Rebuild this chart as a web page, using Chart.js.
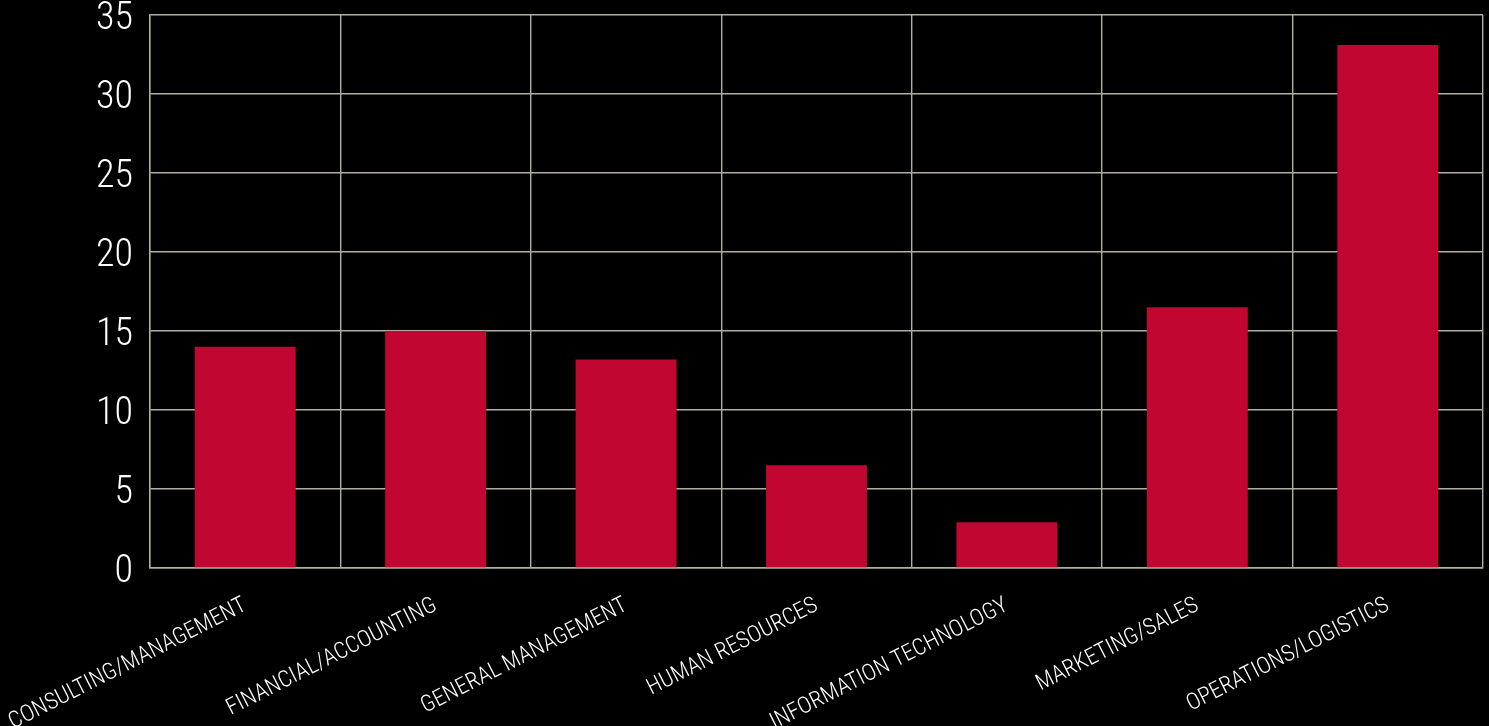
<!DOCTYPE html>
<html>
<head>
<meta charset="utf-8">
<script src="https://cdn.jsdelivr.net/npm/chart.js@4"></script>
<style>
  html, body { margin: 0; padding: 0; background: #000; }
  #wrap { width: 1489px; height: 726px; }
</style>
</head>
<body>
<div id="wrap"><canvas id="chart"></canvas></div>
<script>
const categories = [
  'CONSULTING/MANAGEMENT',
  'FINANCIAL/ACCOUNTING',
  'GENERAL MANAGEMENT',
  'HUMAN RESOURCES',
  'INFORMATION TECHNOLOGY',
  'MARKETING/SALES',
  'OPERATIONS/LOGISTICS',
];
const values = [14, 15, 13.2, 6.5, 2.9, 16.5, 33.1];
const yTicks = [0, 5, 10, 15, 20, 25, 30, 35];

const gridColor = '#b2ae9f';
const barColor = '#c10631';
const fontFamily = "'Roboto Condensed', 'Liberation Sans Narrow', sans-serif";

// pin the axis boxes so the plot area lands where the original has it
const noPad = (axis) => {
  axis.paddingLeft = 0;
  axis.paddingRight = 0;
  axis.paddingTop = 0;
  axis.paddingBottom = 0;
};

const ctx = document.getElementById('chart');

new Chart(ctx, {
  type: 'bar',
  data: {
    labels: categories,
    datasets: [
      {
        data: values,
        backgroundColor: barColor,
        borderWidth: 0,
        categoryPercentage: 1,
        barPercentage: 0.53,
      },
    ],
  },
  options: {
    responsive: true,
    maintainAspectRatio: false,
    animation: false,
    layout: { padding: { top: 15, right: 6, left: 0, bottom: 0 } },
    plugins: {
      legend: { display: false },
      tooltip: { enabled: false },
    },
    scales: {
      x: {
        afterFit: (axis) => {
          axis.height = 158;
          noPad(axis);
        },
        grid: { color: gridColor, lineWidth: 1.4, drawTicks: false },
        border: { color: gridColor, width: 1.4 },
        ticks: {
          color: '#ffffff',
          font: { family: fontFamily, size: 23, weight: 300 },
          minRotation: 27,
          maxRotation: 27,
          padding: 24,
          autoSkip: false,
        },
      },
      y: {
        min: 0,
        max: 35,
        afterBuildTicks: (axis) => {
          axis.ticks = yTicks.map((v) => ({ value: v }));
        },
        afterFit: (axis) => {
          axis.width = 150;
          noPad(axis);
        },
        grid: { color: gridColor, lineWidth: 1.4, drawTicks: false },
        border: { color: gridColor, width: 1.4 },
        ticks: {
          color: '#ffffff',
          font: { family: fontFamily, size: 38, weight: 300 },
          padding: 17,
          labelOffset: 4,
        },
      },
    },
  },
});
</script>
</body>
</html>
